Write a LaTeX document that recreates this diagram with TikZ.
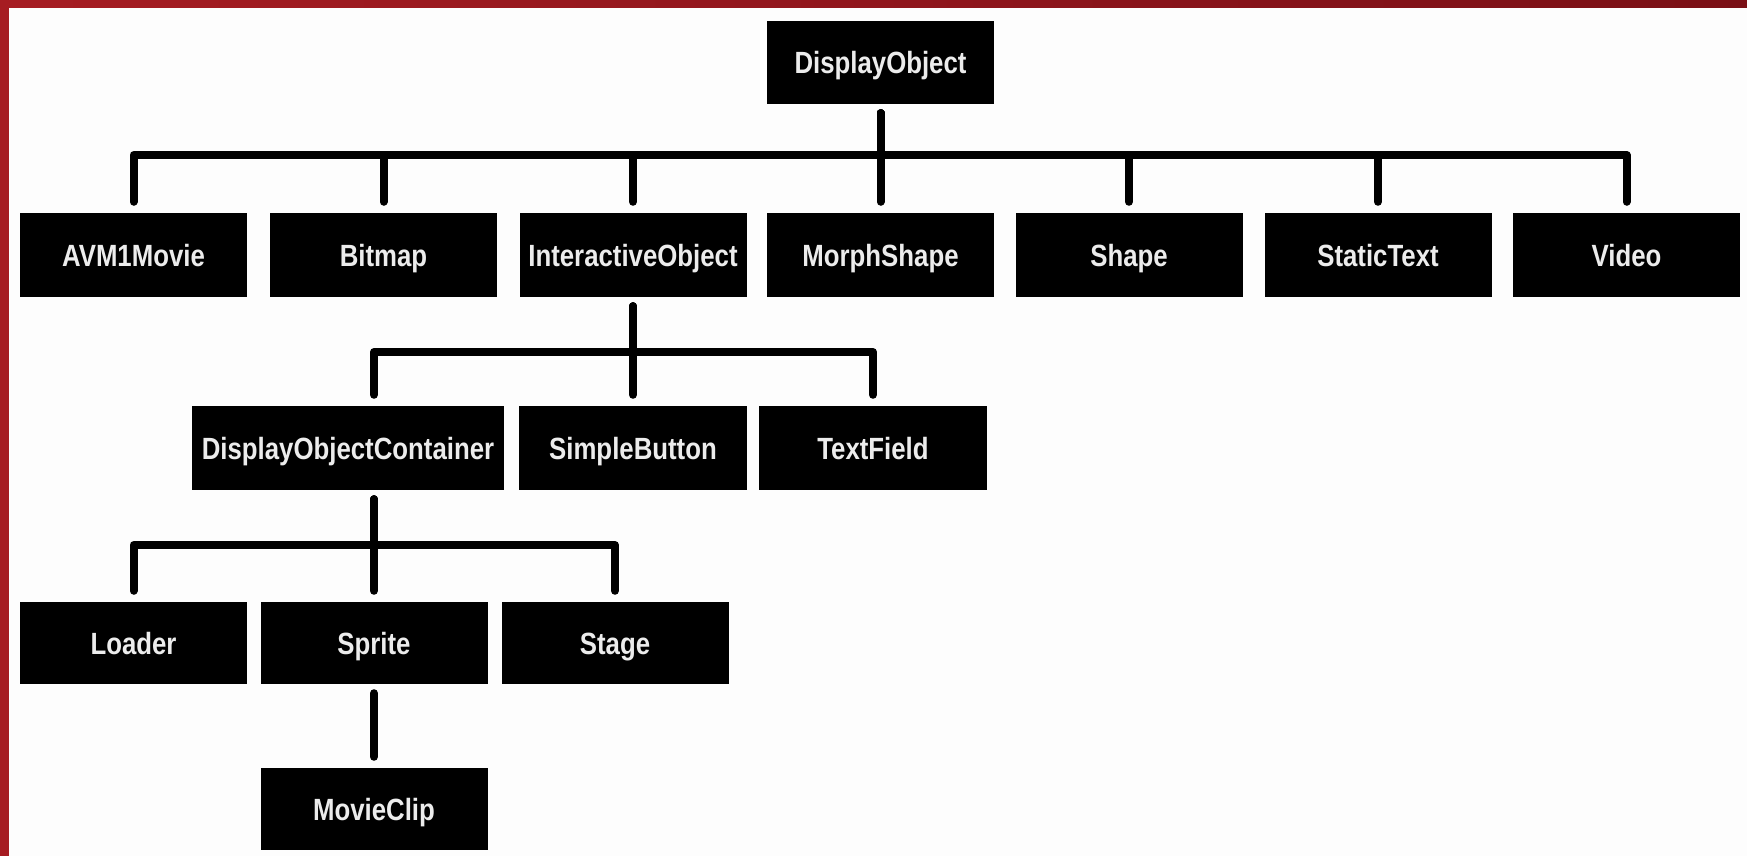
\documentclass[tikz,border=0pt]{standalone}
\usepackage{fontspec}
\setmainfont{Liberation Sans}[FakeStretch=0.84]
\definecolor{bordred}{RGB}{166,28,34}
\definecolor{bordredd}{RGB}{122,16,22}
\definecolor{boxtext}{RGB}{236,236,236}
\definecolor{paper}{RGB}{253,253,253}
\begin{document}
\begin{tikzpicture}[x=1pt,y=-1pt,
  box/.style={fill=black, text=boxtext, inner sep=0pt, minimum width=227pt,
    minimum height=84pt, text height=22pt, text depth=0pt,
    font=\fontsize{30.7}{36}\selectfont\bfseries},
  conn/.style={line width=8pt, line cap=round, line join=round,
    shorten <=9pt, shorten >=11pt}]
\fill[paper] (0,0) rectangle (1747,856);
\useasboundingbox (0,0) rectangle (1747,856);
\shade[left color=bordred, right color=bordredd] (0,0) rectangle (1747,8);
\fill[bordred] (0,0) rectangle (9,856);

% bars
\coordinate (barA) at (0,155);
\coordinate (barB) at (0,352);
\coordinate (barC) at (0,545);

% nodes
\node[box, minimum height=83pt] (DO) at (880.5,62.5) {DisplayObject};

\node[box] (AVM) at (133.5,255) {AVM1Movie};
\node[box] (BMP) at (383.5,255) {Bitmap};
\node[box] (IO)  at (633,255) {InteractiveObject};
\node[box] (MS)  at (880.5,255) {MorphShape};
\node[box] (SH)  at (1129,255) {Shape};
\node[box] (ST)  at (1378,255) {StaticText};
\node[box] (VID) at (1626.5,255) {Video};

\node[box, minimum width=312pt] (DOC) at (348,448) {DisplayObjectContainer};
\node[box, minimum width=228pt] (SB) at (633,448) {SimpleButton};
\node[box, minimum width=228pt] (TF) at (873,448) {TextField};

\node[box, minimum height=82pt] (LD) at (133.5,643) {Loader};
\node[box, minimum height=82pt] (SP) at (374,643) {Sprite};
\node[box, minimum height=82pt] (STG) at (615,643) {Stage};

\node[box, minimum height=82pt] (MC) at (374,809) {MovieClip};

% level 1
\foreach \c in {AVM,BMP,IO,MS,SH,ST,VID}
  \draw[conn] (DO.south) -- (DO.south |- barA) -| (\c.north);

% level 2
\draw[conn] (IO.south) -- (IO.south |- barB) -| (SP |- DOC.north);
\foreach \c in {SB,TF}
  \draw[conn] (IO.south) -- (IO.south |- barB) -| (\c.north);

% level 3
\foreach \c in {LD,SP,STG}
  \draw[conn] (SP |- DOC.south) -- (SP |- barC) -| (\c.north);

% level 4
\draw[conn] (SP.south) -- (MC.north);
\end{tikzpicture}
\end{document}
